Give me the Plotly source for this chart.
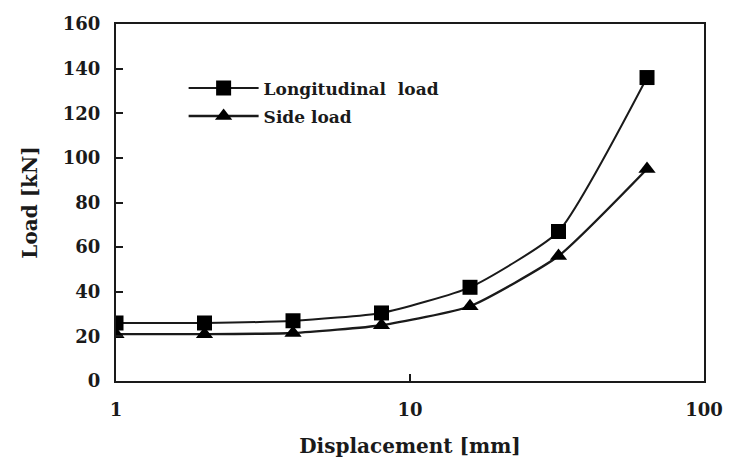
import plotly.graph_objects as go

displacement = [1, 2, 4, 8, 16, 32, 64]
longitudinal = [26, 26, 27, 30.5, 42, 67, 136]
side = [21, 21, 21.5, 25, 33.5, 56, 95]
y_ticks = [0, 20, 40, 60, 80, 100, 120, 140, 160]
x_ticks = [1, 10, 100]

ink = "#1a1a1a"
font_family = "DejaVu Serif, serif"

fig = go.Figure()
fig.add_trace(go.Scatter(
    x=displacement, y=longitudinal, name="<b>Longitudinal  load</b>", legendgroup="a",
    mode="lines+markers", line=dict(color=ink, width=2, shape="spline", smoothing=0.5),
    marker=dict(symbol="square", size=15, color="black"),
))
fig.add_trace(go.Scatter(
    x=displacement, y=side, name="<b>Side load</b>", legendgroup="b",
    mode="lines+markers", line=dict(color=ink, width=2.4, shape="spline", smoothing=0.5),
    marker=dict(symbol="triangle-up", size=15, color="black"),
))

fig.update_layout(
    width=731, height=464,
    margin=dict(l=116, r=27, t=24, b=83),
    paper_bgcolor="white", plot_bgcolor="white",
    font=dict(family=font_family, color=ink, size=18),
    showlegend=True,
    legend=dict(x=0.115, y=0.87, xanchor="left", yanchor="top",
                bgcolor="rgba(0,0,0,0)", font=dict(size=17, family=font_family, color=ink),
                itemwidth=70, traceorder="grouped", tracegroupgap=3),
    xaxis=dict(type="log", range=[0, 2], tickvals=x_ticks, ticktext=[f"<b>{v}</b>" for v in x_ticks],
               ticks="inside", ticklen=7, tickwidth=1.5, tickcolor=ink, ticklabelstandoff=11,
               automargin=False,
               showline=True, linecolor=ink, linewidth=2, mirror=True, showgrid=False, zeroline=False,
               title=dict(text="<b>Displacement [mm]</b>", font=dict(size=20, color=ink), standoff=20),
               tickfont=dict(size=18)),
    yaxis=dict(range=[0, 160], tickvals=y_ticks,
               ticktext=[f"<b>{v}</b>" for v in y_ticks],
               ticks="inside", ticklen=7, tickwidth=1.5, tickcolor=ink, ticklabelstandoff=10,
               automargin=False,
               showline=True, linecolor=ink, linewidth=2, mirror=True, showgrid=False, zeroline=False,
               title=dict(text="<b>Load [kN]</b>", font=dict(size=20, color=ink), standoff=20),
               tickfont=dict(size=18)),
)

fig.write_html("out.html")
